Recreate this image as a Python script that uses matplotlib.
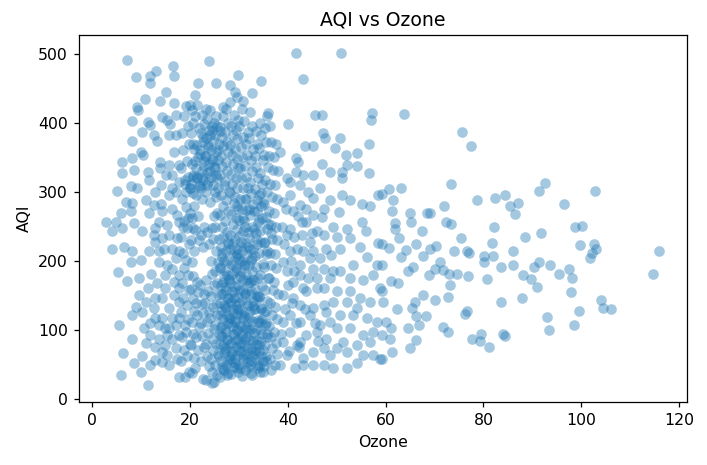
import numpy as np
import matplotlib
matplotlib.use("Agg")
import matplotlib.pyplot as plt

# low ozone (< 18)
ozone_low = [7.2, 9.0, 11.8, 13.0, 16.6, 16.7, 11.8, 15.1, 10.8, 9.2,
             9.4, 13.8, 16.7, 8.2, 11.3, 11.9, 14.3, 15.3, 15.8, 17.2,
             10.2, 12.6, 13.3, 15.6, 17.1, 8.2, 9.9, 10.4, 8.2, 6.1,
             6.0, 8.5, 11.3, 13.8, 15.7, 17.7, 16.7, 11.6, 14.0, 16.4,
             5.1, 7.9, 9.2, 6.8, 8.2, 10.9, 12.6, 14.0, 15.7, 17.1,
             5.8, 7.9, 11.6, 2.9, 4.8, 4.1, 6.1, 8.5, 10.2, 12.9,
             15.3, 17.7, 4.1, 6.5, 8.2, 7.9, 9.9, 12.9, 14.6, 15.7,
             17.4, 13.6, 15.3, 17.1, 5.3, 7.2, 9.6, 12.0, 13.3, 11.4,
             9.6, 10.9, 8.9, 8.2, 10.2, 12.6, 14.3, 14.9, 16.7, 17.7,
             15.7, 17.7, 5.5, 10.5, 11.9, 13.6, 14.9, 17.1, 11.9, 13.6,
             15.3, 17.7, 10.9, 12.9, 14.9, 17.1, 8.1, 6.2, 8.5, 10.2,
             12.9, 11.9, 9.9, 5.8, 11.3, 17.7, 15.3, 17.4, 13.8, 15.1,
             16.4, 17.7, 12.9, 14.3, 16.4, 17.4, 13.6, 12.6, 14.3, 16.4,
             17.7, 11.6, 13.6, 14.9, 16.4, 17.7, 12.9, 16.7, 14.3, 16.4,
             17.7, 12.9, 15.6, 16.4, 14.3, 15.6, 14.3]
aqi_low = [491, 466, 468, 475, 482, 468, 458, 445, 435, 423,
           419, 431, 428, 403, 401, 397, 409, 404, 399, 411,
           386, 382, 373, 382, 383, 373, 358, 353, 349, 344,
           327, 332, 329, 334, 339, 339, 358, 317, 310, 305,
           301, 308, 305, 286, 284, 288, 281, 283, 296, 300,
           269, 272, 269, 256, 257, 243, 248, 255, 243, 248,
           252, 257, 218, 221, 214, 199, 202, 228, 218, 238,
           233, 199, 194, 204, 184, 171, 175, 182, 168, 161,
           151, 141, 134, 122, 127, 132, 146, 161, 170, 180,
           132, 141, 108, 103, 110, 108, 103, 108, 93, 88,
           93, 93, 81, 76, 79, 74, 87, 67, 52, 62,
           57, 50, 40, 35, 21, 33, 64, 59, 344, 325,
           325, 315, 300, 272, 276, 267, 257, 238, 233, 218,
           214, 214, 214, 180, 189, 161, 146, 151, 117, 117,
           117, 117, 103, 88, 69, 50, 54]

# dense band 18-38, one line per column
ozone_core = [
    18.2, 18.7, 18.4, 18.9, 18.1, 18.6, 18.3, 18.8, 18.5, 18.2, 18.7, 18.4, 18.9, 18.1, 18.6, 18.3, 18.8,
    19.7, 19.4, 19.9, 19.1, 19.6, 19.3, 19.8, 19.5, 19.2, 19.7, 19.4, 19.9, 19.1, 19.6, 19.3, 19.8, 19.5, 19.2,
    20.4, 20.9, 20.1, 20.6, 20.3, 20.8, 20.5, 20.2, 20.7, 20.4, 20.9, 20.1, 20.6, 20.3, 20.8, 20.5, 20.2, 20.7, 20.4, 20.9, 20.1, 20.6, 20.3,
    21.1, 21.6, 21.3, 21.8, 21.5, 21.2, 21.7, 21.4, 21.9, 21.1, 21.6, 21.3, 21.8, 21.5, 21.2, 21.7, 21.4, 21.9, 21.1,
    22.6, 22.3, 22.8, 22.5, 22.2, 22.7, 22.4, 22.9, 22.1, 22.6, 22.3, 22.8, 22.5, 22.2, 22.7, 22.4, 22.9, 22.1, 22.6, 22.3, 22.8, 22.5,
    23.3, 23.8, 23.5, 23.2, 23.7, 23.4, 23.9, 23.1, 23.6, 23.3, 23.8, 23.5, 23.2, 23.7, 23.4, 23.9, 23.1, 23.6, 23.3, 23.8, 23.5, 23.2,
    24.8, 24.5, 24.2, 24.7, 24.4, 24.9, 24.1, 24.6, 24.3, 24.8, 24.5, 24.2, 24.7, 24.4, 24.9, 24.1, 24.6, 24.3, 24.8, 24.5, 24.2, 24.7, 24.4, 24.9, 24.1,
    25.5, 25.2, 25.7, 25.4, 25.9, 25.1, 25.6, 25.3, 25.8, 25.5, 25.2, 25.7, 25.4, 25.9, 25.1, 25.6, 25.3, 25.8, 25.5, 25.2, 25.7, 25.4, 25.9, 25.1, 25.6, 25.3,
    26.2, 26.7, 26.4, 26.9, 26.1, 26.6, 26.3, 26.8, 26.5, 26.2, 26.7, 26.4, 26.9, 26.1, 26.6, 26.3, 26.8, 26.5, 26.2, 26.7, 26.4, 26.9, 26.1, 26.6, 26.3, 26.8, 26.5, 26.2, 26.7,
    27.7, 27.4, 27.9, 27.1, 27.6, 27.3, 27.8, 27.5, 27.2, 27.7, 27.4, 27.9, 27.1, 27.6, 27.3, 27.8, 27.5, 27.2, 27.7, 27.4, 27.9, 27.1, 27.6, 27.3, 27.8, 27.5, 27.2, 27.7, 27.4,
    28.4, 28.9, 28.1, 28.6, 28.3, 28.8, 28.5, 28.2, 28.7, 28.4, 28.9, 28.1, 28.6, 28.3, 28.8, 28.5, 28.2, 28.7, 28.4, 28.9, 28.1, 28.6, 28.3, 28.8, 28.5, 28.2, 28.7, 28.4, 28.9, 28.1,
    29.9, 29.1, 29.6, 29.3, 29.8, 29.5, 29.2, 29.7, 29.4, 29.9, 29.1, 29.6, 29.3, 29.8, 29.5, 29.2, 29.7, 29.4, 29.9, 29.1, 29.6, 29.3, 29.8, 29.5, 29.2, 29.7, 29.4, 29.9, 29.1,
    30.6, 30.3, 30.8, 30.5, 30.2, 30.7, 30.4, 30.9, 30.1, 30.6, 30.3, 30.8, 30.5, 30.2, 30.7, 30.4, 30.9, 30.1, 30.6, 30.3, 30.8, 30.5, 30.2, 30.7, 30.4, 30.9, 30.1, 30.6,
    31.3, 31.8, 31.5, 31.2, 31.7, 31.4, 31.9, 31.1, 31.6, 31.3, 31.8, 31.5, 31.2, 31.7, 31.4, 31.9, 31.1, 31.6, 31.3, 31.8, 31.5, 31.2, 31.7, 31.4, 31.9, 31.1,
    32.5, 32.2, 32.7, 32.4, 32.9, 32.1, 32.6, 32.3, 32.8, 32.5, 32.2, 32.7, 32.4, 32.9, 32.1, 32.6, 32.3, 32.8, 32.5, 32.2, 32.7, 32.4, 32.9, 32.1, 32.6, 32.3,
    33.8, 33.5, 33.2, 33.7, 33.4, 33.9, 33.1, 33.6, 33.3, 33.8, 33.5, 33.2, 33.7, 33.4, 33.9, 33.1, 33.6, 33.3, 33.8, 33.5, 33.2, 33.7, 33.4,
    34.4, 34.9, 34.1, 34.6, 34.3, 34.8, 34.5, 34.2, 34.7, 34.4, 34.9, 34.1, 34.6, 34.3, 34.8, 34.5, 34.2, 34.7, 34.4, 34.9, 34.1, 34.6, 34.3,
    35.1, 35.6, 35.3, 35.8, 35.5, 35.2, 35.7, 35.4, 35.9, 35.1, 35.6, 35.3, 35.8, 35.5, 35.2, 35.7, 35.4, 35.9, 35.1, 35.6, 35.3, 35.8,
    36.6, 36.3, 36.8, 36.5, 36.2, 36.7, 36.4, 36.9, 36.1, 36.6, 36.3, 36.8, 36.5, 36.2, 36.7, 36.4, 36.9, 36.1, 36.6, 36.3,
    37.3, 37.8, 37.5, 37.2, 37.7, 37.4, 37.9, 37.1, 37.6, 37.3, 37.8, 37.5, 37.2, 37.7, 37.4, 37.9, 37.1, 37.6,
    23.9, 29.9, 34.6, 21.7, 25.4, 28.2, 32.6, 21.0, 20.0, 21.4, 26.8, 30.9, 36.0, 29.5,
    24.4, 19.0, 27.5, 32.6, 35.0,
]
aqi_core = [
    55, 72, 90, 108, 126, 146, 168, 190, 212, 235, 258, 290, 312, 335, 360, 385, 410,
    40, 62, 80, 98, 116, 136, 158, 180, 202, 225, 248, 270, 300, 322, 345, 370, 395, 425,
    38, 60, 78, 95, 112, 128, 145, 160, 178, 198, 215, 230, 248, 262, 280, 298, 312, 325, 340, 362, 385, 400, 418,
    45, 72, 90, 105, 122, 140, 155, 170, 230, 245, 265, 295, 310, 322, 335, 350, 368, 392, 410,
    30, 55, 75, 92, 110, 125, 138, 152, 165, 220, 238, 250, 290, 305, 318, 330, 345, 360, 372, 385, 398, 412,
    28, 48, 62, 80, 96, 112, 126, 140, 156, 172, 225, 242, 300, 315, 328, 340, 352, 365, 378, 390, 405, 420,
    25, 40, 58, 72, 88, 102, 118, 134, 150, 165, 182, 200, 232, 248, 265, 285, 310, 322, 336, 348, 360, 374, 388, 400, 418,
    35, 50, 65, 80, 95, 108, 122, 138, 152, 168, 185, 198, 215, 232, 250, 270, 292, 306, 320, 334, 346, 358, 370, 382, 395, 410,
    32, 44, 56, 68, 80, 92, 104, 116, 128, 140, 152, 165, 178, 192, 206, 220, 235, 250, 266, 280, 296, 310, 324, 338, 352, 366, 380, 394, 410,
    38, 50, 62, 74, 86, 98, 110, 122, 134, 146, 158, 172, 186, 200, 214, 228, 242, 258, 272, 288, 302, 316, 330, 344, 358, 372, 386, 400, 420,
    36, 47, 58, 70, 82, 94, 106, 118, 130, 142, 155, 168, 182, 196, 210, 224, 238, 254, 268, 284, 298, 312, 326, 340, 354, 368, 382, 396, 412, 430,
    40, 52, 64, 76, 88, 100, 112, 124, 136, 148, 162, 176, 190, 204, 218, 232, 246, 262, 276, 292, 306, 320, 334, 348, 362, 376, 390, 404, 445,
    34, 46, 58, 70, 82, 94, 106, 118, 130, 144, 158, 172, 186, 200, 214, 228, 244, 260, 275, 290, 305, 320, 335, 350, 365, 380, 395, 420,
    42, 54, 66, 78, 90, 102, 114, 126, 140, 154, 168, 182, 196, 210, 226, 242, 258, 274, 290, 306, 322, 338, 354, 370, 386, 402,
    38, 50, 62, 74, 86, 100, 114, 128, 142, 156, 170, 186, 202, 218, 234, 250, 266, 282, 298, 314, 330, 346, 362, 378, 395, 415,
    45, 58, 72, 86, 100, 115, 130, 145, 160, 176, 192, 208, 224, 240, 256, 272, 288, 304, 320, 336, 352, 370, 388,
    40, 55, 70, 85, 100, 116, 132, 148, 164, 180, 196, 212, 228, 244, 262, 280, 296, 312, 328, 346, 364, 382, 400,
    48, 62, 78, 94, 110, 126, 142, 158, 175, 192, 210, 228, 246, 264, 282, 300, 318, 336, 354, 372, 392, 410,
    42, 58, 74, 90, 106, 122, 140, 158, 176, 194, 212, 232, 252, 272, 292, 312, 332, 352, 372, 395,
    50, 66, 82, 98, 116, 134, 152, 170, 190, 210, 230, 250, 270, 290, 310, 330, 350, 370,
    490, 469, 461, 457, 457, 455, 443, 440, 426, 426, 423, 431, 414, 438,
    23, 33, 35, 35, 40,
]

# darkest part of the band (low AQI), plus upper-left, mid band and 38-46 fill
ozone_dense = [
    26.5, 26.0, 26.8, 26.3, 26.6, 26.1, 26.9, 26.4, 26.7, 26.2, 26.5,
    27.0, 27.8, 27.3, 27.6, 27.1, 27.9, 27.4, 27.7, 27.2, 27.5, 27.0, 27.8,
    28.3, 28.6, 28.1, 28.9, 28.4, 28.7, 28.2, 28.5, 28.0, 28.8, 28.3,
    29.6, 29.1, 29.9, 29.4, 29.7, 29.2, 29.5, 29.0, 29.8, 29.3, 29.6,
    30.1, 30.9, 30.4, 30.7, 30.2, 30.5, 30.0, 30.8, 30.3, 30.6,
    31.9, 31.4, 31.7, 31.2, 31.5, 31.0, 31.8, 31.3, 31.6, 31.1, 31.9,
    32.4, 32.7, 32.2, 32.5, 32.0, 32.8, 32.3, 32.6, 32.1,
    33.7, 33.2, 33.5, 33.0, 33.8, 33.3, 33.6, 33.1,
    34.2, 34.5, 34.0, 34.8, 34.3, 34.6, 34.1,
    35.5, 35.0, 35.8, 35.3, 35.6,
    22.0, 22.4, 22.9, 23.3, 23.7, 24.1, 24.5, 22.1, 22.6, 23.5,
    24.0, 24.6, 25.0, 25.4, 25.8, 26.2, 21.5, 21.0, 20.5, 20.0,
    38.6, 39.4, 40.0, 40.7, 41.3, 42.0, 38.9, 39.6, 40.9, 41.6,
    42.3, 43.0, 43.6, 44.2, 44.9, 45.5, 46.1, 39.2, 40.2, 41.2,
    29.3, 30.0, 30.8, 31.5, 32.2, 33.0, 33.7, 34.5, 35.2, 36.0,
    29.7, 30.5, 31.2, 32.0, 32.7, 33.5, 34.2, 35.0, 35.7, 36.5,
    18.5, 19.2, 19.9, 20.6, 18.9, 19.6,
]
aqi_dense = [
    47, 62, 77, 92, 107, 122, 137, 152, 170, 190, 212,
    42, 57, 72, 87, 102, 117, 132, 147, 162, 180, 200, 225,
    52, 66, 80, 95, 110, 125, 140, 156, 174, 195, 218,
    45, 58, 72, 86, 100, 115, 130, 146, 165, 185, 210,
    50, 64, 78, 92, 108, 124, 140, 158, 178, 200,
    47, 60, 74, 88, 104, 120, 136, 152, 172, 194, 220,
    55, 70, 86, 102, 118, 135, 152, 172, 195,
    50, 65, 80, 96, 112, 130, 150, 172,
    48, 62, 78, 94, 112, 130, 150,
    55, 72, 90, 108, 128,
    308, 322, 338, 352, 368, 382, 395, 355, 380, 310,
    330, 345, 300, 325, 360, 388, 320, 345, 370, 305,
    95, 130, 165, 200, 235, 265, 250, 275, 140, 110,
    75, 60, 130, 175, 240, 110, 85, 225, 70, 185,
    208, 236, 262, 290, 218, 246, 272, 298, 226, 254,
    280, 222, 250, 276, 205, 232, 260, 286, 214, 240,
    250, 278, 305, 322, 318, 262,
]

# middle ozone (38-59)
ozone_mid = [41.7, 50.9, 43.2, 45.6, 46.9, 40.1, 57.3, 57.1, 47.1, 47.6,
             50.7, 43.5, 45.2, 49.6, 56.5, 38.4, 41.7, 42.1, 46.9, 51.9,
             54.1, 52.0, 54.2, 48.6, 51.0, 51.0, 56.7, 41.7, 45.2, 39.8,
             43.2, 46.6, 44.2, 51.0, 58.5, 48.6, 52.7, 55.1, 56.8, 50.5,
             40.4, 42.5, 45.2, 46.9, 55.1, 56.0, 52.0, 49.3, 50.0, 47.3,
             52.7, 54.8, 58.5, 42.8, 44.5, 40.4, 48.9, 50.7, 56.1, 58.2,
             53.4, 46.6, 43.2, 40.4, 50.7, 48.6, 52.7, 55.4, 57.5, 58.8,
             45.2, 42.5, 39.8, 47.3, 50.0, 52.0, 54.8, 56.8, 43.8, 41.1,
             45.2, 47.9, 50.7, 53.4, 56.1, 58.2, 40.4, 42.5, 46.6, 50.0,
             52.7, 55.4, 57.5, 40.4, 43.8, 47.9, 51.3, 54.1, 56.8, 58.8,
             41.8, 45.2, 48.6, 52.0, 55.4, 57.5, 39.8, 43.2, 45.2, 47.3,
             49.3, 52.0, 41.5, 38.4, 54.1, 39.1, 41.1, 42.8, 39.8, 41.8,
             44.5, 39.1, 41.1, 43.2, 45.9, 39.1, 42.5, 44.5, 39.1, 45.9,
             42.5, 39.1, 47.3, 50.0, 43.8, 45.9, 47.9, 45.2, 47.3, 42.5,
             49.3, 45.9, 47.3, 49.3, 52.7, 54.1, 48.6, 40.4, 42.5, 45.2,
             47.3, 43.8]
aqi_mid = [501, 501, 463, 411, 411, 399, 414, 404, 385, 378,
           378, 366, 366, 363, 369, 358, 349, 344, 341, 353,
           356, 339, 337, 329, 329, 320, 328, 329, 325, 320,
           325, 305, 300, 296, 296, 288, 288, 282, 280, 271,
           296, 281, 267, 264, 257, 243, 247, 250, 235, 238,
           233, 221, 226, 238, 228, 247, 209, 218, 206, 194,
           194, 204, 214, 214, 185, 175, 175, 173, 180, 161,
           189, 180, 185, 161, 156, 141, 146, 141, 156, 146,
           132, 127, 122, 122, 117, 112, 122, 112, 108, 103,
           103, 93, 98, 98, 93, 88, 83, 79, 83, 59,
           79, 69, 64, 69, 64, 64, 64, 50, 50, 50,
           45, 45, 45, 50, 52, 286, 272, 257, 238, 218,
           204, 199, 170, 161, 161, 151, 136, 122, 112, 98,
           83, 83, 74, 74, 257, 243, 218, 214, 189, 194,
           185, 175, 136, 141, 156, 132, 112, 315, 310, 291,
           276, 276]

# high ozone (> 59)
ozone_high = [63.8, 75.7, 77.5, 73.3, 92.5, 91.4, 102.8, 63.1, 60.7, 59.2,
              61.5, 61.4, 78.7, 82.4, 84.4, 85.5, 87.0, 86.5, 96.4, 72.0,
              64.9, 68.4, 69.1, 65.1, 72.3, 73.4, 62.0, 61.9, 62.7, 67.4,
              82.1, 98.8, 100.2, 91.8, 88.6, 75.4, 81.8, 66.3, 70.3, 69.1,
              73.9, 76.6, 77.1, 60.6, 59.2, 64.2, 63.1, 67.6, 80.2, 80.2,
              81.9, 86.0, 99.8, 102.6, 103.0, 102.2, 101.8, 115.9, 114.6, 83.5,
              86.0, 90.3, 91.4, 93.6, 95.5, 97.6, 98.1, 88.0, 89.7, 91.0,
              80.7, 76.8, 74.5, 72.9, 71.1, 65.7, 64.6, 68.9, 70.1, 71.8,
              62.6, 61.2, 59.2, 59.4, 67.6, 73.2, 72.8, 70.2, 66.0, 62.3,
              65.3, 66.2, 68.3, 64.6, 61.2, 66.9, 60.1, 59.3, 60.9, 66.3,
              64.9, 61.4, 59.2, 83.7, 87.8, 97.9, 104.0, 104.5, 106.1, 99.6,
              98.6, 93.1, 93.4, 76.7, 76.2, 71.8, 72.8, 77.7, 79.6, 79.3,
              81.2, 84.1, 84.4, 59.2]
aqi_high = [413, 387, 367, 311, 313, 302, 301, 306, 304, 297,
            288, 273, 288, 291, 295, 280, 284, 268, 282, 280,
            270, 270, 269, 257, 257, 254, 255, 246, 234, 243,
            249, 249, 251, 241, 235, 233, 226, 225, 222, 217,
            215, 215, 211, 219, 224, 216, 206, 208, 208, 199,
            208, 214, 223, 224, 218, 211, 204, 214, 182, 192,
            195, 192, 199, 194, 182, 188, 175, 180, 174, 163,
            174, 179, 182, 181, 199, 192, 185, 180, 189, 187,
            168, 171, 156, 141, 151, 165, 148, 144, 141, 131,
            132, 121, 121, 103, 103, 108, 112, 93, 88, 86,
            74, 69, 59, 141, 147, 155, 144, 132, 131, 128,
            107, 119, 101, 128, 123, 104, 98, 88, 95, 84,
            75, 95, 92, 194]

ozone = np.concatenate([ozone_low, ozone_core, ozone_dense, ozone_mid, ozone_high])
aqi = np.concatenate([aqi_low, aqi_core, aqi_dense, aqi_mid, aqi_high])

dpi = 113
fig = plt.figure(figsize=(707 / dpi, 465 / dpi), dpi=dpi)
ax = fig.add_axes([0.1113, 0.1348, 0.8608, 0.7893])

ax.scatter(ozone, aqi, s=46, color='#1f77b4', alpha=0.4, linewidths=0)

ax.set_title('AQI vs Ozone')
ax.set_xlabel('Ozone')
ax.set_ylabel('AQI')
ax.set_xlim(-2.78, 121.7)
ax.set_ylim(-4.3, 526.6)
ax.set_xticks(np.arange(0, 121, 20))
ax.set_yticks(np.arange(0, 501, 100))

fig.savefig('out.png', dpi=dpi)
